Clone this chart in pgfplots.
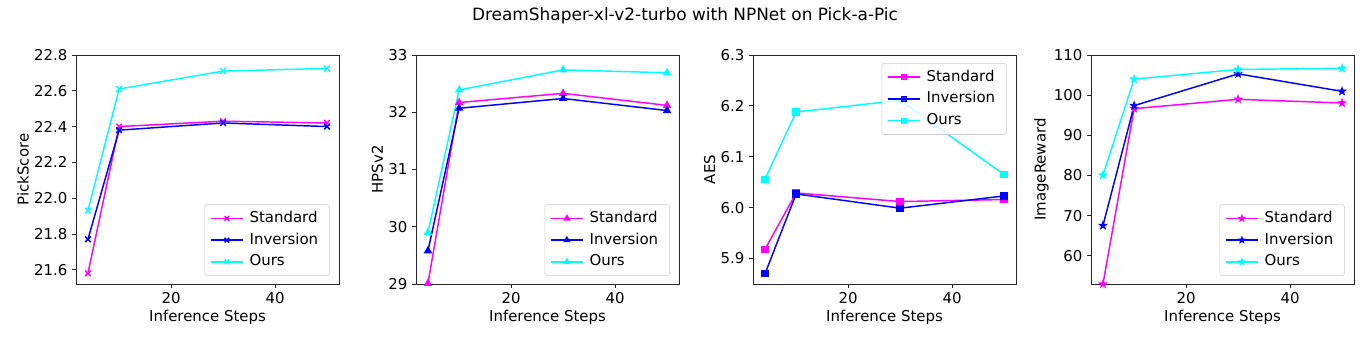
\documentclass[border=0pt]{standalone}
\usepackage{fontspec}
\setmainfont{DejaVu Sans}
\usepackage{pgfplots}
\pgfplotsset{compat=1.18}
\usetikzlibrary{plotmarks}

\definecolor{cStd}{RGB}{255,0,255}
\definecolor{cInv}{RGB}{0,0,255}
\definecolor{cOurs}{RGB}{0,255,255}

% filled five-pointed star, like matplotlib's '*'
\pgfdeclareplotmark{fstar}{%
  \pgfpathmoveto{\pgfpointpolar{90}{\pgfplotmarksize}}%
  \pgfpathlineto{\pgfpointpolar{126}{0.42\pgfplotmarksize}}%
  \pgfpathlineto{\pgfpointpolar{162}{\pgfplotmarksize}}%
  \pgfpathlineto{\pgfpointpolar{198}{0.42\pgfplotmarksize}}%
  \pgfpathlineto{\pgfpointpolar{234}{\pgfplotmarksize}}%
  \pgfpathlineto{\pgfpointpolar{270}{0.42\pgfplotmarksize}}%
  \pgfpathlineto{\pgfpointpolar{306}{\pgfplotmarksize}}%
  \pgfpathlineto{\pgfpointpolar{342}{0.42\pgfplotmarksize}}%
  \pgfpathlineto{\pgfpointpolar{18}{\pgfplotmarksize}}%
  \pgfpathlineto{\pgfpointpolar{54}{0.42\pgfplotmarksize}}%
  \pgfpathclose
  \pgfusepathqfillstroke}

\newcommand{\fs}{\fontsize{11.2}{13.5}\selectfont}

\pgfplotsset{
  panel/.style={
    scale only axis, width=197.25pt, height=171.75pt,
    anchor=south west,
    xmin=1.7, xmax=52.3, xtick={20,40},
    tick align=outside, tick pos=left,
    major tick length=3pt,
    axis line style={black!85, line width=0.6pt},
    every tick/.style={black!85, line width=0.6pt},
    /pgf/number format/assume math mode=true,
    tick label style={font=\fs},
    label style={font=\fs},
    xlabel={Inference Steps},
    xlabel style={yshift=2pt},
    ylabel style={yshift=-3pt},
    legend cell align=left,
    legend style={font=\fs, draw=black!20, rounded corners=2pt,
      fill=white, fill opacity=0.8, text opacity=1,
      inner xsep=4pt, inner ysep=4pt, row sep=3.5pt,
      nodes={inner xsep=4.5pt, inner ysep=1pt, text height=8.4pt, text depth=2.4pt},
      at={(0.965,0.035)}, anchor=south east},
    legend image code/.code={
      \draw[mark repeat=2,mark phase=2, mark options={scale=0.8}] plot coordinates {(0pt,0pt) (12pt,0pt) (24pt,0pt)};},
    every axis plot/.append style={line width=1.1pt, mark size=2.6pt},
  }
}

\begin{document}
\begin{tikzpicture}
\useasboundingbox (0,0) rectangle (1027.5pt,257.25pt);
\node[font=\fontsize{12.7}{15}\selectfont] at (513.75pt,245.5pt) {DreamShaper-xl-v2-turbo with NPNet on Pick-a-Pic};

% PickScore
\begin{axis}[panel, at={(57pt,44.25pt)},
  ymin=21.52, ymax=22.8, ytick={21.6,21.8,...,22.8},
  yticklabel style={/pgf/number format/.cd, fixed, fixed zerofill, precision=1},
  ylabel={PickScore}]
\addplot[cStd, mark=x, mark size=3pt] coordinates {(4,21.58) (10,22.40) (30,22.43) (50,22.42)};
\addplot[cInv, mark=x, mark size=3pt] coordinates {(4,21.77) (10,22.38) (30,22.42) (50,22.40)};
\addplot[cOurs, mark=x, mark size=3pt] coordinates {(4,21.93) (10,22.61) (30,22.71) (50,22.725)};
\legend{Standard, Inversion, Ours}
\end{axis}

% HPSv2
\begin{axis}[panel, at={(312pt,44.25pt)},
  ymin=29, ymax=33, ytick={29,30,31,32,33},
  ylabel={HPSv2}]
\addplot[cStd, mark=triangle*] coordinates {(4,29.01) (10,32.17) (30,32.33) (50,32.12)};
\addplot[cInv, mark=triangle*] coordinates {(4,29.58) (10,32.07) (30,32.24) (50,32.03)};
\addplot[cOurs, mark=triangle*] coordinates {(4,29.90) (10,32.39) (30,32.74) (50,32.69)};
\legend{Standard, Inversion, Ours}
\end{axis}

% AES
\begin{axis}[panel, at={(564.75pt,44.25pt)},
  ymin=5.85, ymax=6.3, ytick={5.9,6.0,...,6.3},
  yticklabel style={/pgf/number format/.cd, fixed, fixed zerofill, precision=1},
  ylabel={AES},
  legend style={at={(0.965,0.965)}, anchor=north east}]
\addplot[cStd, mark=square*, mark size=2.2pt] coordinates {(4,5.918) (10,6.029) (30,6.012) (50,6.016)};
\addplot[cInv, mark=square*, mark size=2.2pt] coordinates {(4,5.870) (10,6.027) (30,5.999) (50,6.023)};
\addplot[cOurs, mark=square*, mark size=2.2pt] coordinates {(4,6.056) (10,6.188) (30,6.211) (50,6.065)};
\legend{Standard, Inversion, Ours}
\end{axis}

% ImageReward
\begin{axis}[panel, at={(818.25pt,44.25pt)},
  ymin=53, ymax=110, ytick={60,70,...,110},
  ylabel={ImageReward}]
\addplot[cStd, mark=fstar, mark size=2.3pt] coordinates {(4,53.0) (10,96.65) (30,98.97) (50,98.06)};
\addplot[cInv, mark=fstar, mark size=2.3pt] coordinates {(4,67.55) (10,97.4) (30,105.3) (50,100.96)};
\addplot[cOurs, mark=fstar, mark size=2.3pt] coordinates {(4,80.1) (10,104.0) (30,106.4) (50,106.7)};
\legend{Standard, Inversion, Ours}
\end{axis}
\end{tikzpicture}
\end{document}
